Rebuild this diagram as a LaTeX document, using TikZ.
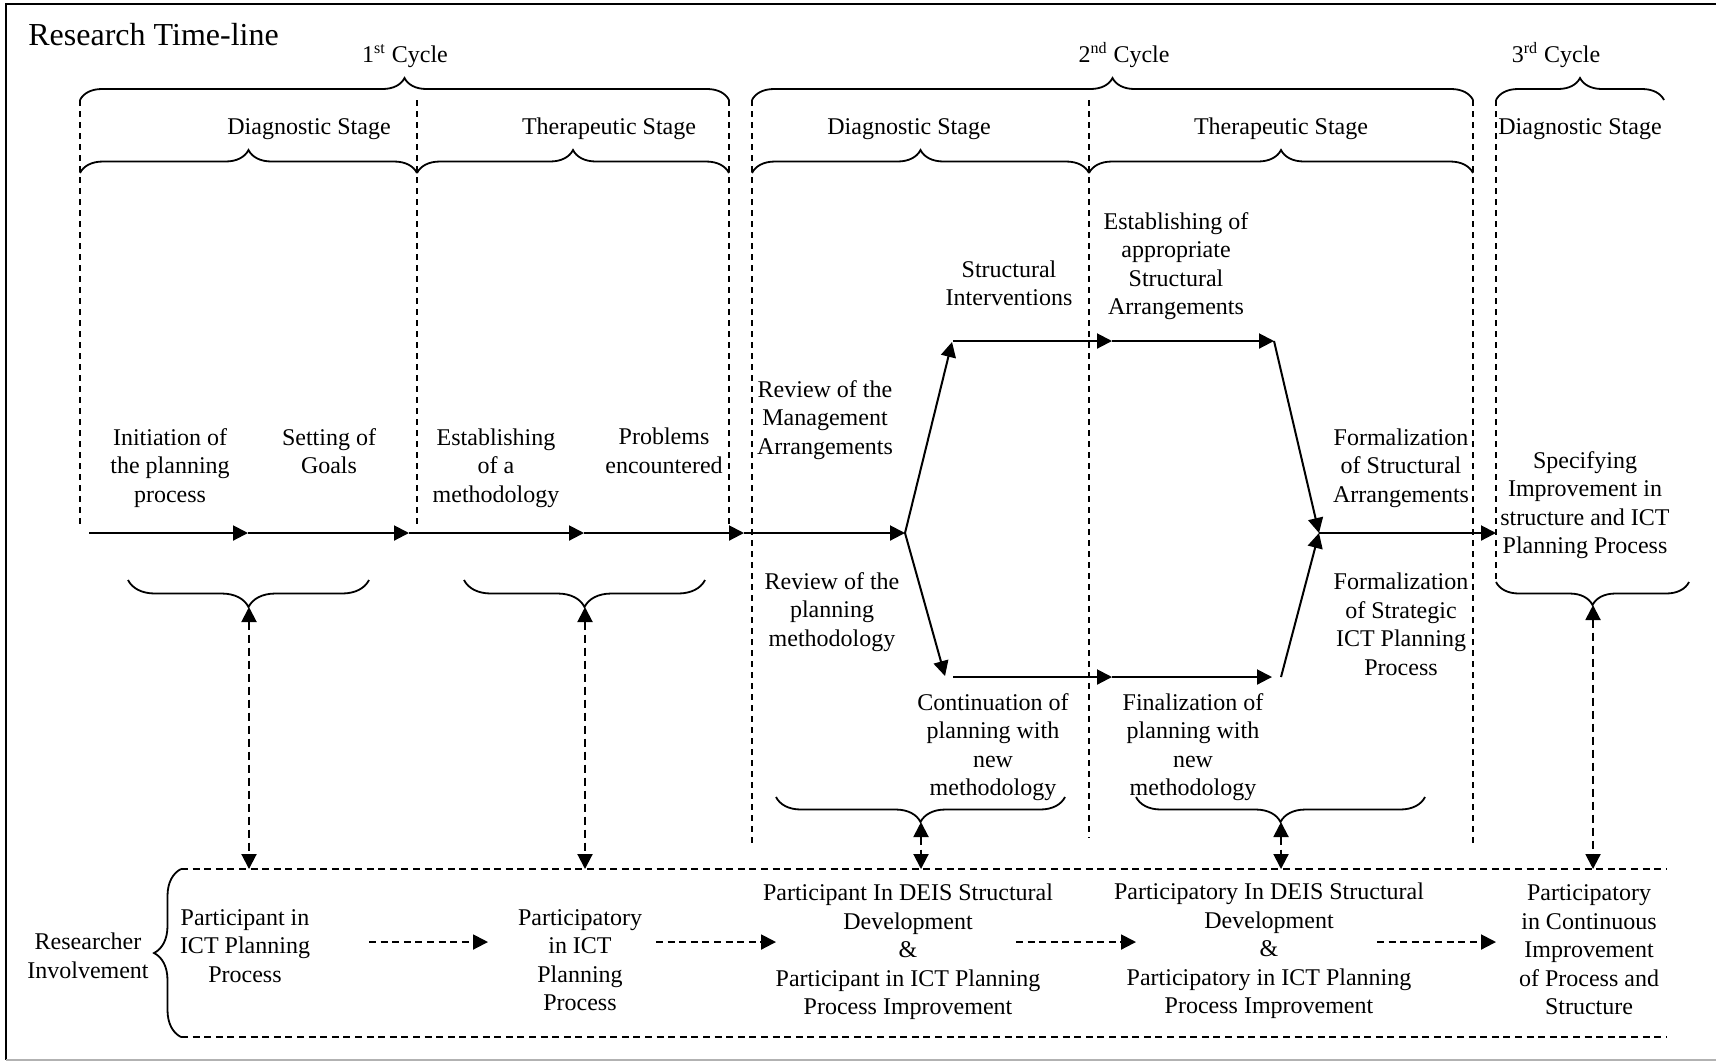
\documentclass[tikz,border=0pt]{standalone}
\usepackage{fontspec}
\setmainfont{Liberation Serif}
\usepackage{tikz}
\usetikzlibrary{arrows.meta,decorations.pathreplacing,calc}

\begin{document}
\begin{tikzpicture}[x=0.5pt,y=-0.5pt,>={Triangle[length=7.5pt,width=7.5pt]},
  every node/.style={font=\fontsize{12}{14.25}\selectfont,inner sep=0pt,align=center},
  flow/.style={->,line width=1pt},
  divider/.style={line width=0.6pt,dash pattern=on 3pt off 2.5pt},
  link/.style={<->,line width=1pt,dash pattern=on 4pt off 2.5pt},
  boxline/.style={line width=1pt,dash pattern=on 3.5pt off 2.3pt},
  invarrow/.style={->,line width=1pt,dash pattern=on 3.5pt off 2.3pt},
  curly/.style={decorate,decoration={brace,amplitude=#1},line width=0.9pt}]
  \useasboundingbox (0,0) rectangle (1716,1062);
  % frame
  \draw[line width=1pt] (1716,4) -- (6,4) -- (6,1060);
  \draw[line width=1pt,gray!60] (6,1060) -- (1716,1060);

  \node[anchor=base west,font=\fontsize{16}{19}\selectfont] (title) at (28,45) {Research Time-line};
  \foreach \x/\n/\s in {405/1/st,1124/2/nd,1556/3/rd}
    \node[anchor=base] (cycle\n) at (\x,62) {\n\textsuperscript{\s} Cycle};
  \node[anchor=base] (diagA) at (309,134) {Diagnostic Stage};
  \node[anchor=base] (theraA) at (609,134) {Therapeutic Stage};
  \node[anchor=base] (diagB) at (909,134) {Diagnostic Stage};
  \node[anchor=base] (theraB) at (1281,134) {Therapeutic Stage};
  \node[anchor=base] (diagC) at (1580,134) {Diagnostic Stage};

  % braces and stage dividers
  \foreach \a/\b in {80/729,752/1473,1496/1664}
    \draw[curly=11pt] (\a,100) -- (\b,100);
  \foreach \a/\b in {80/417,417/729,752/1089,1089/1473}
    \draw[curly=11.5pt] (\a,173) -- (\b,173);
  \foreach \x/\ya/\yb in {80/100/528,417/100/528,729/100/528,752/100/846,1089/100/838,1473/100/846,1496/100/582}
    \draw[divider] (\x,\ya) -- (\x,\yb);
  \foreach \a/\b in {369/128,705/464}
    \draw[curly=13.5pt] (\a,580) -- (\b,580);
  \foreach \a/\b in {1065/776,1425/1136}
    \draw[curly=12.5pt] (\a,797) -- (\b,797);
  \draw[curly=11.5pt] (1689,582) -- (1496,582);

  % time-line
  \coordinate (t0) at (89,533);
  \coordinate (t1) at (248,533);
  \coordinate (t2) at (409,533);
  \coordinate (t3) at (584,533);
  \coordinate (t4) at (744,533);
  \coordinate (split) at (905,533);
  \coordinate (up) at (952,342);
  \coordinate (hi0) at (953,341);
  \coordinate (himid) at (1112,341);
  \coordinate (hiend) at (1274,341);
  \coordinate (dn) at (945,676);
  \coordinate (lo0) at (953,677);
  \coordinate (lomid) at (1112,677);
  \coordinate (loend) at (1272,677);
  \coordinate (lostart) at (1281,677);
  \coordinate (merge) at (1319,533);
  \coordinate (final) at (1496,533);
  \foreach \a/\b in {t0/t1,t1/t2,t2/t3,t3/t4,t4/split,split/up,hi0/himid,himid/hiend,hiend/merge,
                     split/dn,lo0/lomid,lomid/loend,lostart/merge,merge/final}
    \draw[flow] (\a) -- (\b);

  \node (init) at (170,468) {Initiation of\\the planning\\process};
  \node (goals) at (329,451) {Setting of\\Goals};
  \node (method) at (496,468) {Establishing\\of a\\methodology};
  \node (problems) at (664,451) {Problems\\encountered};
  \node (revMgmt) at (825,420) {Review of the\\Management\\Arrangements};
  \node (revPlan) at (832,612) {Review of the\\planning\\methodology};
  \node (structInt) at (1009,283.5) {Structural\\Interventions};
  \node (estStruct) at (1176,266) {Establishing of\\appropriate\\Structural\\Arrangements};
  \node (formStruct) at (1401,468) {Formalization\\of Structural\\Arrangements};
  \node (formStrat) at (1401,624.5) {Formalization\\of Strategic\\ICT Planning\\Process};
  \node (contPlan) at (993,747) {Continuation of\\planning with\\new\\methodology};
  \node (finPlan) at (1193,747) {Finalization of\\planning with\\new\\methodology};
  \node (specify) at (1585,505) {Specifying\\Improvement in\\structure and ICT\\Planning Process};

  % researcher involvement
  \coordinate (boxtop) at (181,869);
  \coordinate (boxbot) at (181,1037);
  \draw[boxline] (boxtop) -- (1666,869);
  \draw[boxline] (boxbot) -- (1666,1037);
  \draw[curly=13.5pt] (boxbot) -- (boxtop);
  \node (researcher) at (88,956) {Researcher\\Involvement};
  \node (inv1) at (245,946) {Participant in\\ICT Planning\\Process};
  \node (inv2) at (580,960) {Participatory\\in ICT\\Planning\\Process};
  \node (inv3) at (908,952) {Participant In DEIS Structural\\Development\\\&\\Participant in ICT Planning\\Process Improvement};
  \node (inv4) at (1269,951) {Participatory In DEIS Structural\\Development\\\&\\Participatory in ICT Planning\\Process Improvement};
  \node (inv5) at (1589,950) {Participatory\\in Continuous\\Improvement\\of Process and\\Structure};
  \foreach \i/\a/\b in {1/369/488,2/656/776,3/1016/1136,4/1377/1496} {
    \coordinate (from\i) at (\a,942);
    \coordinate (to\i) at (\b,942);
    \draw[invarrow] (from\i) -- (to\i);
  }

  % stage to involvement
  \coordinate (tipA) at (249,607);
  \coordinate (tipB) at (585,607);
  \coordinate (tipC) at (921,822);
  \coordinate (tipD) at (1281,822);
  \coordinate (tipE) at (1593,605);
  \foreach \t in {tipA,tipB,tipC,tipD,tipE}
    \draw[link] (\t) -- (\t |- boxtop);
\end{tikzpicture}
\end{document}
